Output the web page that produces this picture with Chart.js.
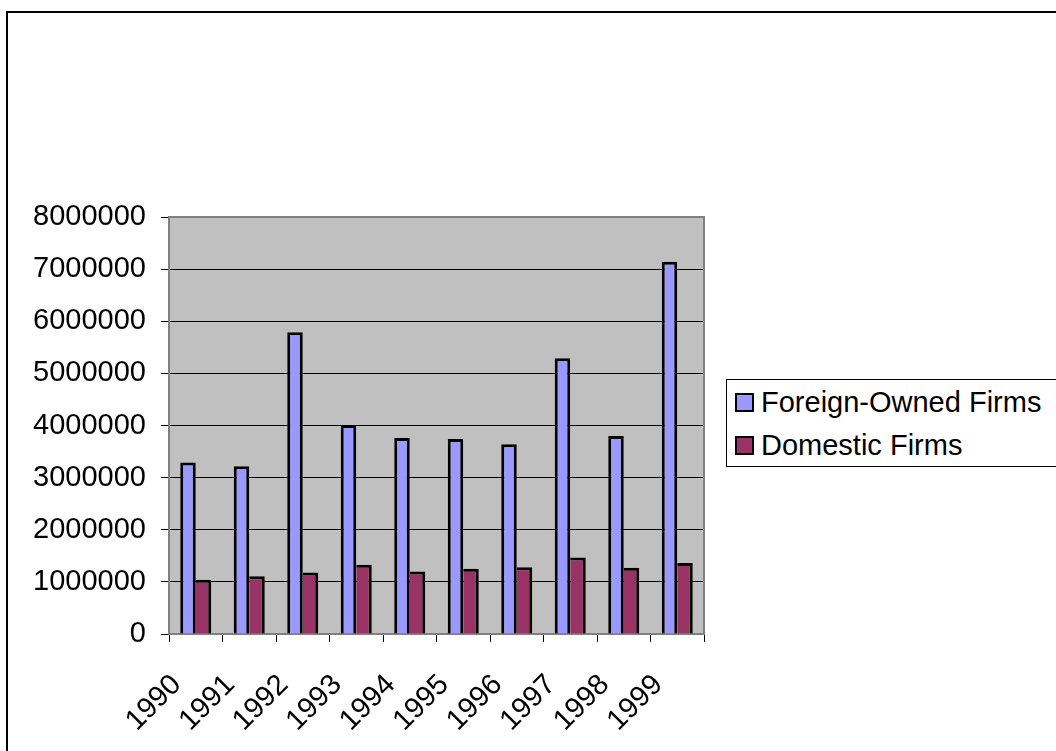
<!DOCTYPE html>
<html>
<head>
<meta charset="utf-8">
<script src="https://cdn.jsdelivr.net/npm/chart.js@4/dist/chart.umd.min.js"></script>
<style>
  html, body { margin: 0; padding: 0; width: 1056px; height: 751px; overflow: hidden; background: #fff; }
  #frame { position: absolute; left: 6px; top: 11px; width: 1200px; height: 900px; border-left: 2px solid #000; border-top: 2px solid #000; }
  #wrap { position: absolute; left: 0; top: 0; width: 1056px; height: 751px; }
  #legend { position: absolute; left: 726px; top: 379px; width: 340px; height: 86px; border: 1px solid #000; background: #fff;
            font-family: "Liberation Sans", Arial, sans-serif; font-size: 29px; color: #000; }
  .row { position: absolute; left: 8px; height: 34px; line-height: 34px; white-space: nowrap; }
  .sw { display: inline-block; width: 15px; height: 15px; border: 2px solid #000; vertical-align: middle; margin-right: 7px; position: relative; top: -2px; }
</style>
</head>
<body>
<div id="frame"></div>
<div id="wrap"><canvas id="c" width="1056" height="751"></canvas></div>
<div id="legend">
  <div class="row" style="top:5px"><span class="sw" style="background:#9999FF"></span>Foreign-Owned Firms</div>
  <div class="row" style="top:48px"><span class="sw" style="background:#993366"></span>Domestic Firms</div>
</div>
<script>
const years = ["1990","1991","1992","1993","1994","1995","1996","1997","1998","1999"];
const foreignOwned = [3290000, 3220000, 5790000, 4010000, 3760000, 3740000, 3640000, 5290000, 3800000, 7140000];
const domestic = [1040000, 1110000, 1180000, 1330000, 1200000, 1250000, 1280000, 1470000, 1270000, 1360000];
const seriesNames = ["Foreign-Owned Firms", "Domestic Firms"];

const plotBg = {
  id: 'plotBg',
  beforeDraw(chart) {
    const {ctx, chartArea: a} = chart;
    ctx.save();
    ctx.fillStyle = '#C0C0C0';
    ctx.fillRect(a.left, a.top, a.right - a.left, a.bottom - a.top);
    ctx.restore();
  },
  afterDatasetsDraw(chart) {
    const {ctx, chartArea: a} = chart;
    ctx.save();
    ctx.strokeStyle = '#808080';
    ctx.lineWidth = 2;
    ctx.beginPath();
    ctx.moveTo(a.left, a.top);
    ctx.lineTo(a.right, a.top);
    ctx.lineTo(a.right, a.bottom);
    ctx.stroke();
    ctx.restore();
  }
};

const font = { family: '"Liberation Sans", Arial, sans-serif', size: 29 };

new Chart(document.getElementById('c'), {
  type: 'bar',
  data: {
    labels: years,
    datasets: [
      { label: seriesNames[0], data: foreignOwned, backgroundColor: '#9999FF', borderColor: '#000',
        borderWidth: { left: 3, top: 3, right: 3, bottom: 0 } },
      { label: seriesNames[1], data: domestic, backgroundColor: '#993366', borderColor: '#000',
        borderWidth: { left: 0, top: 3, right: 3, bottom: 0 } }
    ]
  },
  options: {
    responsive: false,
    animation: false,
    devicePixelRatio: 1,
    layout: { padding: { left: 0, top: 217, right: 352, bottom: 0 } },
    plugins: { legend: { display: false }, tooltip: { enabled: false } },
    datasets: { bar: { categoryPercentage: 0.58, barPercentage: 1.0 } },
    scales: {
      x: {
        grid: { offset: true, drawOnChartArea: false, drawTicks: true, tickLength: 8, color: '#000' },
        border: { color: '#808080', width: 2 },
        ticks: { font, color: '#000', minRotation: 45, maxRotation: 45, padding: 26, labelOffset: -19, autoSkip: false },
        afterFit(s) { s.height = 751 - 634; }
      },
      y: {
        min: 0, max: 8000000,
        grid: { color: '#000', lineWidth: 1, tickLength: 8, drawTicks: true },
        border: { color: '#808080', width: 2 },
        ticks: { font, color: '#000', stepSize: 1000000, padding: 15, callback: v => String(v) },
        afterFit(s) { s.width = 169; }
      }
    }
  },
  plugins: [plotBg]
});
</script>
</body>
</html>
